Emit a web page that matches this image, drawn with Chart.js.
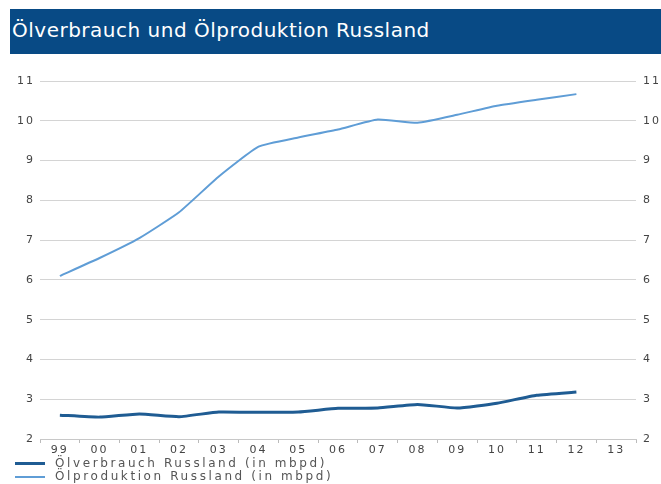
<!DOCTYPE html>
<html>
<head>
<meta charset="utf-8">
<script src="https://cdn.jsdelivr.net/npm/chart.js@4"></script>
<style>
  body { margin: 0; background: #fff; width: 661px; height: 484px; overflow: hidden; position: relative; font-family: "DejaVu Sans", sans-serif; }
  #title { position: absolute; left: 10px; top: 9px; width: 651px; height: 45px; background: #084a85; color: #fff;
           font-family: "DejaVu Sans", sans-serif; font-size: 20px; letter-spacing: 0.5px; line-height: 43px; padding-left: 2px; box-sizing: border-box; }
  #wrap { position: absolute; left: 0; top: 60px; width: 661px; height: 400px; }
  #legend { position: absolute; left: 15px; top: 457px; font-size: 12px; color: #555; letter-spacing: 2.6px; line-height: 13px; }
  .item { display: flex; align-items: center; white-space: nowrap; }
  .swatch { width: 30px; margin-right: 10px; }
</style>
</head>
<body>
<div id="title">Ölverbrauch und Ölproduktion Russland</div>
<div id="wrap"><canvas id="chart" width="661" height="400"></canvas></div>
<div id="legend"></div>
<script>
// Chart data
const YEARS = ['99', '00', '01', '02', '03', '04', '05', '06', '07', '08', '09', '10', '11', '12', '13'];
const CONSUMPTION = [2.60, 2.55, 2.63, 2.56, 2.68, 2.67, 2.68, 2.77, 2.78, 2.87, 2.78, 2.90, 3.10, 3.18, null];
const PRODUCTION = [6.10, 6.55, 7.05, 7.70, 8.60, 9.35, 9.58, 9.78, 10.03, 9.95, 10.15, 10.38, 10.53, 10.67, null];
const LABELS = ['Ölverbrauch Russland (in mbpd)', 'Ölproduktion Russland (in mbpd)'];
const Y_MIN = 2;
const Y_MAX = 11;

const COLORS = ['#1f5c93', '#5f9dd6'];

// wider letter spacing for axis text
const spacingPlugin = {
  id: 'spacing',
  beforeLayout(chart) { chart.ctx.letterSpacing = '2px'; },
  beforeDraw(chart) { chart.ctx.letterSpacing = '2px'; }
};

const tickFont = { family: 'DejaVu Sans', size: 11 };

const chart = new Chart(document.getElementById('chart'), {
  type: 'line',
  data: {
    labels: YEARS,
    datasets: [
      { label: LABELS[0], data: CONSUMPTION, borderColor: COLORS[0], backgroundColor: COLORS[0], borderWidth: 3, yAxisID: 'y' },
      { label: LABELS[1], data: PRODUCTION, borderColor: COLORS[1], backgroundColor: COLORS[1], borderWidth: 2, yAxisID: 'y' }
    ]
  },
  options: {
    responsive: false,
    devicePixelRatio: 1,
    animation: false,
    layout: { padding: { top: 21, left: 0, right: 0, bottom: 0 } },
    elements: {
      point: { radius: 0 },
      line: { tension: 0.15 }
    },
    plugins: {
      legend: { display: false },
      tooltip: { enabled: false }
    },
    scales: {
      x: {
        offset: true,
        grid: { offset: true, drawOnChartArea: false, drawTicks: true, tickLength: 4, color: '#bbb' },
        border: { color: '#c8c8c8', width: 1 },
        ticks: { font: tickFont, color: '#444', padding: 1, maxRotation: 0, autoSkip: false },
        afterFit(scale) { scale.height = 21; }
      },
      y: {
        position: 'left',
        min: Y_MIN,
        max: Y_MAX,
        grid: { color: '#d4d4d4', drawTicks: false },
        border: { display: false },
        ticks: { stepSize: 1, font: tickFont, color: '#444', padding: 5 },
        afterFit(scale) { scale.width = 40; }
      },
      y2: {
        position: 'right',
        min: Y_MIN,
        max: Y_MAX,
        grid: { display: false, drawTicks: false },
        border: { display: false },
        ticks: { stepSize: 1, font: tickFont, color: '#444', padding: 7 },
        afterFit(scale) { scale.width = 25; }
      }
    }
  },
  plugins: [spacingPlugin]
});

// HTML legend, stacked in two rows
document.getElementById('legend').innerHTML = chart.data.datasets.map(ds => `
  <div class="item">
    <span class="swatch" style="height:${ds.borderWidth}px;background:${ds.borderColor}"></span>
    <span>${ds.label}</span>
  </div>
`).join('');
</script>
</body>
</html>
